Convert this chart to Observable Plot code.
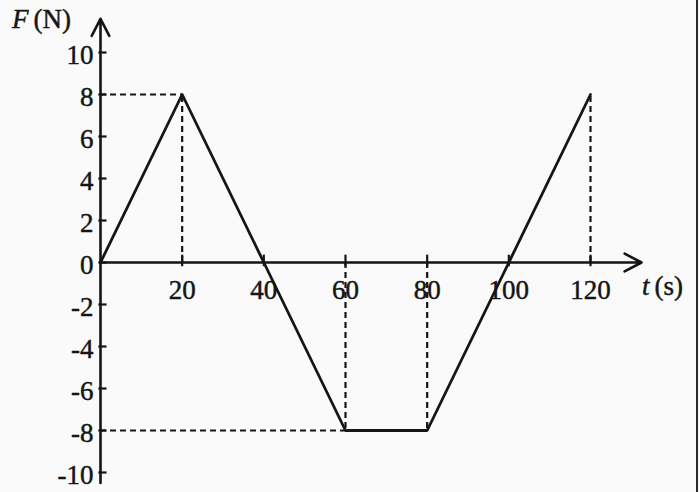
<!DOCTYPE html>
<html>
<head>
<meta charset="utf-8">
<script src="https://cdn.jsdelivr.net/npm/d3@7"></script>
<script src="https://cdn.jsdelivr.net/npm/@observablehq/plot@0.6"></script>
<style>
  html, body { margin: 0; padding: 0; background: #fafafa; }
  #chart { position: relative; width: 700px; height: 492px; overflow: hidden; }
  #chart::after { content: ""; position: absolute; left: 696px; top: 0; width: 2px; height: 492px; background: #2a2a2a; }
  svg { display: block; }
</style>
</head>
<body>
<div id="chart"></div>
<script>
// Data: force F (N) versus time t (s)
const times  = [0, 20, 40, 60, 80, 120];
const forces = [0, 8, 0, -8, -8, 8];
const xTicks = [20, 40, 60, 80, 100, 120];
const yTicks = [10, 8, 6, 4, 2, 0, -2, -4, -6, -8, -10];
const yLabelName = ["F", "(N)"];
const xLabelName = ["t", "(s)"];

const points = times.map((t, i) => ({t, F: forces[i]}));
// guides: vertical dashed from axis to each nonzero point
const vGuides = points.filter(d => d.F !== 0);
// horizontal dashed from F axis to the first point at each extreme value
const hGuides = [];
for (const d of vGuides) if (!hGuides.some(h => h.F === d.F)) hGuides.push(d);

const ink = "#151515";
const font = "'Liberation Serif', 'Times New Roman', serif";
const txt = {fontSize: 27, fill: ink, stroke: ink, strokeWidth: 0.45, lineAnchor: "middle"};

const plot = Plot.plot({
  width: 700,
  height: 492,
  marginLeft: 100,
  marginRight: 110,
  marginTop: 52,
  marginBottom: 20,
  x: {domain: [0, 120], axis: null},
  y: {domain: [-10, 10], axis: null},
  style: {background: "transparent", fontFamily: font},
  marks: [
    // dashed guides
    Plot.ruleX(vGuides, {x: "t", y1: 0, y2: "F", stroke: ink, strokeWidth: 2.2, strokeDasharray: "6,4"}),
    Plot.ruleY(hGuides, {y: "F", x1: 0, x2: "t", stroke: ink, strokeWidth: 2.2, strokeDasharray: "6,4"}),
    // axes with arrows
    Plot.arrow([{x1: 0, y1: 0, x2: 132.5, y2: 0}], {x1: "x1", y1: "y1", x2: "x2", y2: "y2", stroke: ink, strokeWidth: 2.6, headLength: 11, headAngle: 55}),
    Plot.arrow([{x1: 0, y1: -10.5, x2: 0, y2: 11.6}], {x1: "x1", y1: "y1", x2: "x2", y2: "y2", stroke: ink, strokeWidth: 2.6, headLength: 11, headAngle: 55}),
    // tick marks
    Plot.ruleX(xTicks, {x: d => d, y1: -0.2, y2: 0.35, stroke: ink, strokeWidth: 2.2}),
    Plot.ruleY(yTicks, {y: d => d, x1: -0.4, x2: 1.6, stroke: ink, strokeWidth: 2.2}),
    // tick labels
    Plot.text(xTicks, {x: d => d, y: 0, text: d => String(d), dy: 28, ...txt}),
    Plot.text(yTicks, {x: 0, y: d => d, text: d => String(d), dx: -7, dy: 3, textAnchor: "end", ...txt}),
    // data line
    Plot.line(points, {x: "t", y: "F", stroke: ink, strokeWidth: 2.8}),
    // axis names
    Plot.text([yLabelName[0]], {frameAnchor: "top-left", dx: -72, dy: -33, textAnchor: "end", fontStyle: "italic", ...txt}),
    Plot.text([yLabelName[1]], {frameAnchor: "top-left", dx: -67, dy: -33, textAnchor: "start", ...txt}),
    Plot.text([xLabelName[0]], {x: 132.5, y: 0, dx: 8, dy: 24, textAnchor: "end", fontStyle: "italic", ...txt}),
    Plot.text([xLabelName[1]], {x: 132.5, y: 0, dx: 13, dy: 24, textAnchor: "start", ...txt})
  ]
});
document.getElementById("chart").appendChild(plot);
</script>
</body>
</html>
